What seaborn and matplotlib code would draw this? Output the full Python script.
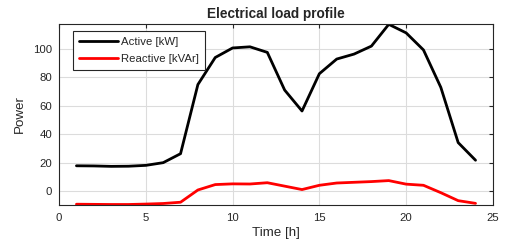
import pandas as pd
import matplotlib
matplotlib.use("Agg")
import matplotlib.pyplot as plt
import seaborn as sns

# data
hours = list(range(1, 25))
active_kw = [17.9, 17.8, 17.5, 17.6, 18.2, 20.1, 26.4, 75.0, 94.0, 100.7,
             101.5, 97.6, 71.1, 56.4, 82.6, 92.9, 96.4, 102.0, 117.3, 111.3,
             99.3, 73.0, 34.2, 21.8]
reactive_kvar = [-9.1, -9.2, -9.3, -9.3, -9.0, -8.6, -7.7, 0.9, 4.7, 5.2,
                 5.1, 6.0, 3.6, 1.2, 4.2, 5.8, 6.3, 6.8, 7.5, 5.0,
                 4.2, -1.0, -6.6, -8.5]
series_names = ["Active [kW]", "Reactive [kVAr]"]
series_colors = ["#000000", "#ff0000"]

df = pd.DataFrame({
    "hour": hours * 2,
    "power": active_kw + reactive_kvar,
    "series": [series_names[0]] * len(hours) + [series_names[1]] * len(hours),
})

sns.set_theme(style="whitegrid")
plt.rcParams["font.family"] = ["Liberation Sans", "DejaVu Sans"]

fig = plt.figure(figsize=(5.05, 2.49), dpi=100)
ax = fig.add_axes([0.117, 0.177, 0.859, 0.727])

sns.lineplot(data=df, x="hour", y="power", hue="series",
             palette=dict(zip(series_names, series_colors)),
             linewidth=2.0, ax=ax)

ax.set_xlim(0, 25)
ax.set_ylim(min(reactive_kvar) - 0.3, max(active_kw) + 0.3)
ax.set_xticks([0, 5, 10, 15, 20, 25])
ax.set_yticks([0, 20, 40, 60, 80, 100])

ax.set_title("Electrical load profile", fontsize=9.8, fontweight="bold", pad=4)
ax.set_xlabel("Time [h]", fontsize=9.6, color="#262626", labelpad=3)
ax.set_ylabel("Power", fontsize=9.6, color="#262626", labelpad=5)

ax.grid(True, color="#dcdcdc", linewidth=0.8)
for spine in ax.spines.values():
    spine.set_color("#262626")
    spine.set_linewidth(0.8)
ax.tick_params(axis="x", pad=5.5)
ax.tick_params(axis="y", pad=5)
ax.tick_params(axis="both", direction="in", length=3, width=0.8,
               colors="#262626", labelsize=8.2, top=True, right=True,
               labelcolor="#262626")

leg = ax.legend(loc="upper left", fontsize=8.2, frameon=True, fancybox=False,
                handlelength=3.4, borderpad=0.55, labelspacing=0.6,
                handletextpad=0.25, bbox_to_anchor=(0.019, 0.993))
leg.get_frame().set_edgecolor("#262626")
leg.get_frame().set_linewidth(0.8)
leg.get_frame().set_alpha(1.0)

fig.savefig("out.png", dpi=100, facecolor="white")
